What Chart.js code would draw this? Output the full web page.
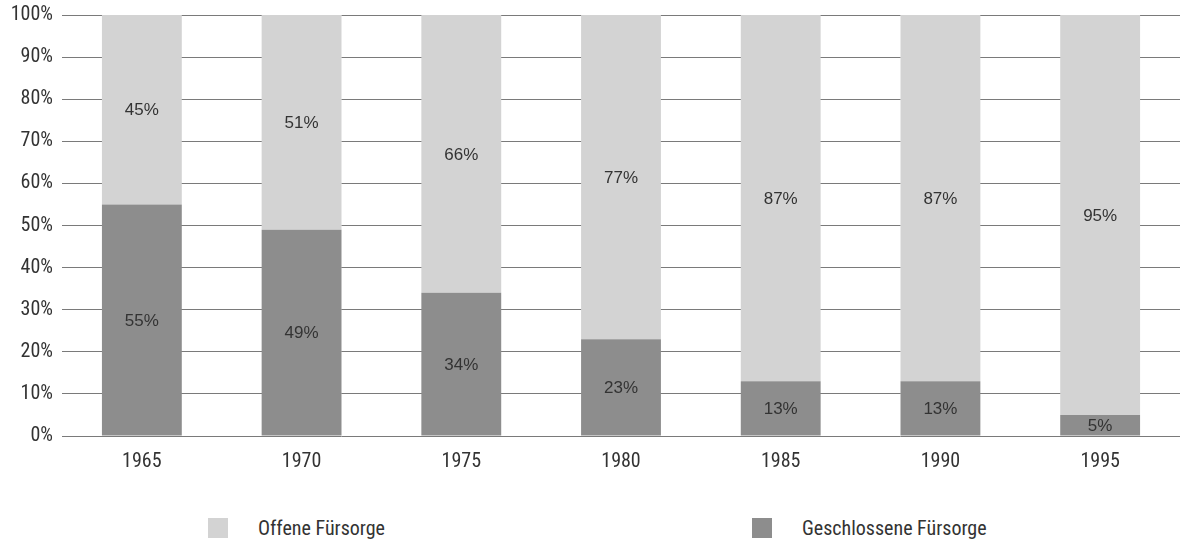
<!DOCTYPE html>
<html lang="de">
<head>
<meta charset="utf-8">
<script src="https://cdn.jsdelivr.net/npm/chart.js@4/dist/chart.umd.min.js"></script>
<style>
  html, body { margin: 0; padding: 0; background: #fff; }
  .wrap { position: relative; width: 1180px; height: 545px; }
  .chart-box { position: absolute; left: 0; top: 0; width: 1180px; height: 480px; }
  .legend { position: absolute; top: 518px; left: 0; width: 1180px; height: 20px;
            font-family: "Roboto Condensed", "DejaVu Sans", sans-serif;
            font-size: 20px; color: #333; }
  .legend .item { position: absolute; top: 0; display: flex; align-items: center; height: 20px; }
  .legend .sw { width: 20px; height: 20px; margin-right: 30px; }
</style>
</head>
<body>
<div class="wrap">
  <div class="chart-box"><canvas id="chart"></canvas></div>
  <div class="legend" id="legend"></div>
</div>
<script>
const years = ["1965", "1970", "1975", "1980", "1985", "1990", "1995"];
const geschlossen = [55, 49, 34, 23, 13, 13, 5];
const offen = [45, 51, 66, 77, 87, 87, 95];
const yTicks = [0, 10, 20, 30, 40, 50, 60, 70, 80, 90, 100];

const LIGHT = "#d3d3d3";
const DARK = "#8d8d8d";
const tickFont = { family: "'Roboto Condensed', 'DejaVu Sans', sans-serif", size: 20 };

// value labels in the middle of every segment
const segLabels = {
  id: "segLabels",
  afterDatasetsDraw(chart){
    const ctx = chart.ctx;
    ctx.save();
    ctx.font = "17px 'Liberation Sans', Arial, sans-serif";
    ctx.fillStyle = "#333";
    ctx.textAlign = "center";
    ctx.textBaseline = "middle";
    chart.data.datasets.forEach((ds, i) => {
      chart.getDatasetMeta(i).data.forEach((el, j) => {
        ctx.fillText(ds.data[j] + "%", el.x, (el.y + el.base) / 2 + 1);
      });
    });
    ctx.restore();
  }
};

new Chart(document.getElementById("chart"), {
  type: "bar",
  data: {
    labels: years,
    datasets: [
      { label: "Geschlossene Fürsorge", data: geschlossen, backgroundColor: DARK },
      { label: "Offene Fürsorge", data: offen, backgroundColor: LIGHT }
    ]
  },
  options: {
    responsive: true, maintainAspectRatio: false, animation: false,
    layout: { padding: { top: 15, right: 0, bottom: 6, left: 0 } },
    datasets: { bar: { barPercentage: 0.5, categoryPercentage: 1 } },
    plugins: { legend: { display: false }, tooltip: { enabled: false } },
    scales: {
      x: {
        stacked: true,
        afterFit(scale){ scale.height = 38; },
        grid: { display: false, drawTicks: false },
        border: { display: false },
        ticks: { font: tickFont, color: "#333", padding: 14, maxRotation: 0 }
      },
      y: {
        stacked: true, min: 0, max: 100,
        afterFit(scale){ scale.width = 62; scale.paddingTop = 0; scale.paddingBottom = 0; },
        afterBuildTicks(scale){ scale.ticks = yTicks.map(v => ({ value: v })); },
        grid: { color: "#7a7a7a", lineWidth: 1, drawTicks: false },
        border: { display: false },
        ticks: { font: tickFont, color: "#333", padding: 9, callback: v => v + "%" }
      }
    }
  },
  plugins: [segLabels]
});

// legend below the chart
const legendItems = [
  { text: "Offene Fürsorge", color: LIGHT, left: 208 },
  { text: "Geschlossene Fürsorge", color: DARK, left: 752 }
];
const legend = document.getElementById("legend");
legendItems.forEach(it => {
  const d = document.createElement("div");
  d.className = "item";
  d.style.left = it.left + "px";
  d.innerHTML = `<span class="sw" style="background:${it.color}"></span><span>${it.text}</span>`;
  legend.appendChild(d);
});
</script>
</body>
</html>
